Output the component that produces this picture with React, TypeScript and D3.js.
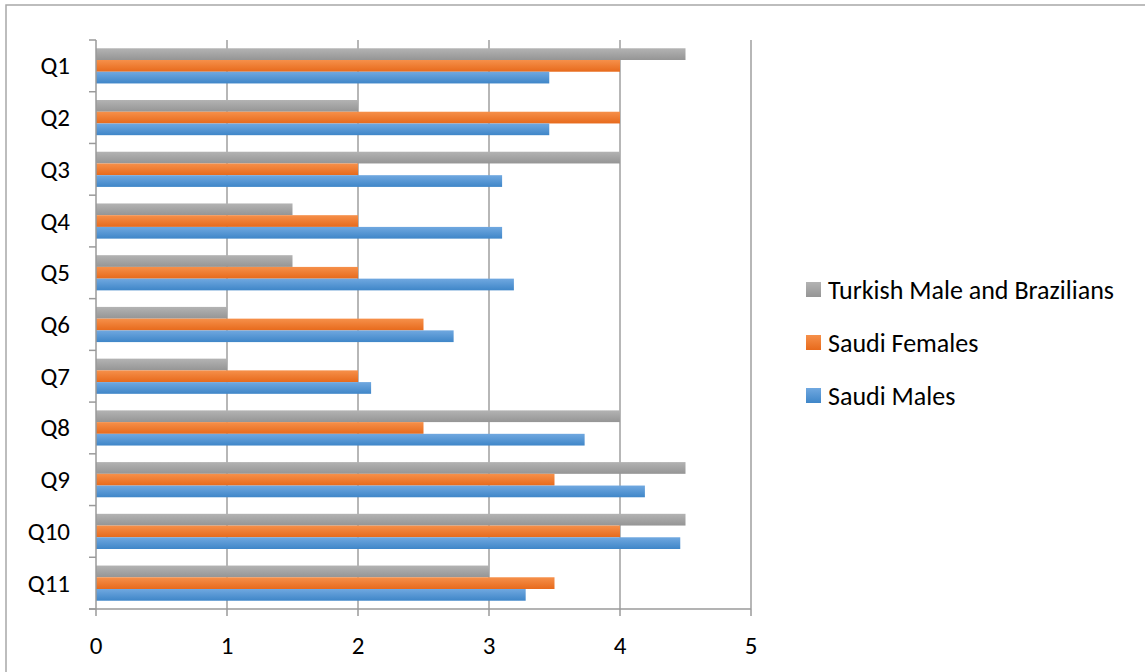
import React from "react";
import * as d3 from "d3";

const categories = ["Q1", "Q2", "Q3", "Q4", "Q5", "Q6", "Q7", "Q8", "Q9", "Q10", "Q11"];
const seriesNames = ["Turkish Male and Brazilians", "Saudi Females", "Saudi Males"];
const turkishBrazilians = [4.5, 2, 4, 1.5, 1.5, 1, 1, 4, 4.5, 4.5, 3];
const saudiFemales = [4, 4, 2, 2, 2, 2.5, 2, 2.5, 3.5, 4, 3.5];
const saudiMales = [3.46, 3.46, 3.1, 3.1, 3.19, 2.73, 2.1, 3.73, 4.19, 4.46, 3.28];
const xTicks = [0, 1, 2, 3, 4, 5];

const seriesValues = [turkishBrazilians, saudiFemales, saudiMales];
const gradients = [
  { id: "g-gray", top: "#b3b3b3", bottom: "#959595" },
  { id: "g-orange", top: "#f6904a", bottom: "#e76a1c" },
  { id: "g-blue", top: "#70a8e0", bottom: "#3f86c8" },
];

const W = 1145;
const H = 672;
const FONT = "Carlito, Calibri, Lato, 'Open Sans', sans-serif";

export default function App() {
  const x = d3.scaleLinear().domain([0, 5]).range([96, 751]);
  const y = d3
    .scaleBand<string>()
    .domain(categories)
    .range([40, 609])
    .paddingInner(0.32)
    .paddingOuter(0.16);
  const sub = d3
    .scaleBand<number>()
    .domain([0, 1, 2])
    .range([0, y.bandwidth()]);

  const step = y.step();
  const boundaries = d3.range(categories.length + 1).map((i) => 40 + i * step);
  const axisColor = "#9a9a9a";

  return (
    <svg
      width={W}
      height={H}
      style={{ position: "absolute", left: 0, top: 0, background: "#fff" }}
    >
      <defs>
        {gradients.map((g) => (
          <linearGradient key={g.id} id={g.id} x1="0" y1="0" x2="0" y2="1">
            <stop offset="0%" stopColor={g.top} />
            <stop offset="100%" stopColor={g.bottom} />
          </linearGradient>
        ))}
      </defs>
      <rect x={0} y={0} width={W} height={H} fill="#fff" />
      {/* chart area border */}
      <rect x={6} y={5} width={W + 20} height={H + 20} fill="none" stroke="#a8a8a8" strokeWidth={1.5} />

      {/* vertical gridlines */}
      {xTicks.slice(1).map((t) => (
        <line
          key={"g" + t}
          x1={x(t)}
          x2={x(t)}
          y1={40}
          y2={609}
          stroke="#9f9f9f"
          strokeWidth={1.5}
        />
      ))}

      {/* bars */}
      {categories.map((c, ci) =>
        seriesValues.map((vals, si) => (
          <rect
            key={c + si}
            x={x(0)}
            y={(y(c) as number) + (sub(si) as number)}
            width={x(vals[ci]) - x(0)}
            height={sub.bandwidth()}
            fill={`url(#${gradients[si].id})`}
          />
        ))
      )}

      {/* y axis */}
      <line x1={96} x2={96} y1={40} y2={609} stroke={axisColor} strokeWidth={1.5} />
      {boundaries.map((b, i) => (
        <line key={"yt" + i} x1={89} x2={96} y1={b} y2={b} stroke={axisColor} strokeWidth={1.5} />
      ))}
      {categories.map((c) => (
        <text
          key={"yl" + c}
          x={70}
          y={(y(c) as number) + y.bandwidth() / 2}
          textAnchor="end"
          dominantBaseline="central"
          fontFamily={FONT}
          fontSize={25}
          fill="#000"
        >
          {c}
        </text>
      ))}

      {/* x axis */}
      <line x1={89} x2={x(5)} y1={609} y2={609} stroke={axisColor} strokeWidth={1.5} />
      {xTicks.map((t) => (
        <g key={"xt" + t}>
          <line x1={x(t)} x2={x(t)} y1={609} y2={616} stroke={axisColor} strokeWidth={1.5} />
          <text
            x={x(t)}
            y={645}
            textAnchor="middle"
            dominantBaseline="central"
            fontFamily={FONT}
            fontSize={25}
            fill="#000"
          >
            {t}
          </text>
        </g>
      ))}

      {/* legend */}
      {seriesNames.map((name, i) => (
        <g key={name} transform={`translate(806, ${282 + i * 53})`}>
          <rect x={0} y={0} width={15} height={15} fill={`url(#${gradients[i].id})`} />
          <text
            x={22}
            y={8}
            dominantBaseline="central"
            fontFamily={FONT}
            fontSize={26}
            fill="#000"
          >
            {name}
          </text>
        </g>
      ))}
    </svg>
  );
}
